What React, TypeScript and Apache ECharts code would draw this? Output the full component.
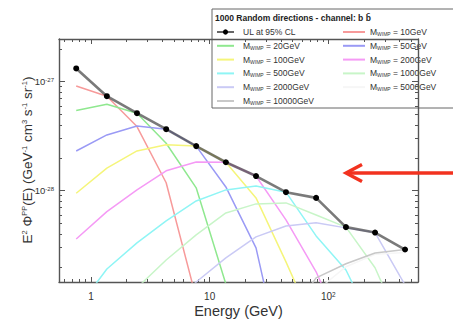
import { useEffect, useRef } from "react";
import * as echarts from "echarts";

// ---- data ----
const energies = [0.75, 1.36, 2.44, 4.3, 7.7, 13.7, 24.6, 44, 79, 141, 248, 444];
const ulValues = [1.32e-27, 7.35e-28, 5.13e-28, 3.66e-28, 2.56e-28, 1.82e-28, 1.36e-28, 9.67e-29, 8.57e-29, 4.62e-29, 4.12e-29, 2.88e-29];
const m10 = [9.13e-28, 7.35e-28, 3.87e-28, 1.18e-28, 1.03e-29, null, null, null, null, null, null, null];
const m20 = [5.42e-28, 6.2e-28, 5.13e-28, 2.72e-28, 1.06e-28, 1.39e-29, null, null, null, null, null, null];
const m50 = [2.31e-28, 3.24e-28, 3.92e-28, 3.66e-28, 2.56e-28, 1.08e-28, 2.98e-29, 1.8e-30, null, null, null, null];
const m100 = [9.46e-29, 1.61e-28, 2.31e-28, 2.63e-28, 2.56e-28, 1.82e-28, 8.57e-29, 2.22e-29, 5.3e-30, null, null, null];
const m200 = [3.6e-29, 6.42e-29, 1.015e-28, 1.52e-28, 1.83e-28, 1.82e-28, 1.36e-28, 5.39e-29, 1.8e-29, 4.3e-30, null, null];
const m500 = [8.0e-30, 1.91e-29, 3.31e-29, 5.27e-29, 8.04e-29, 1.015e-28, 1.1e-28, 9.67e-29, 3.84e-29, 1.87e-29, 5.3e-30, null];
const m1000 = [null, 5.3e-30, 1.28e-29, 2.31e-29, 3.92e-29, 6.24e-29, 7.55e-29, 7.71e-29, 5.98e-29, 4.62e-29, 1.96e-29, 4.7e-30];
const m2000 = [null, null, null, 7.2e-30, 1.45e-29, 2.41e-29, 3.76e-29, 4.74e-29, 5.06e-29, 4.55e-29, 4.12e-29, 1.36e-29];
const m5000 = [null, null, null, null, null, null, null, 6.0e-30, 1.2e-29, 2.0e-29, 2.6e-29, 2.7e-29];
const m10000 = [null, null, null, null, null, null, null, 6.5e-30, 1.58e-29, 2.13e-29, 2.68e-29, 2.88e-29];

const masses = [10, 20, 50, 100, 200, 500, 1000, 2000, 5000, 10000];
const massCurves = [m10, m20, m50, m100, m200, m500, m1000, m2000, m5000, m10000];
const massColors = ["#f79a9a", "#8fe88f", "#9a9af5", "#f5f57a", "#f59af5", "#8ff5f5", "#c8f5c8", "#cacaf5", "#f6f6f6", "#c8c8c8"];

const xMajorTicks = [1, 10, 100];
const xMinorTicks = [0.6, 0.7, 0.8, 0.9, 2, 3, 4, 5, 6, 7, 8, 9, 20, 30, 40, 50, 60, 70, 80, 90, 200, 300, 400, 500];
const yMajorTicks = [1e-28, 1e-27];
const yMinorTicks = [2e-29, 3e-29, 4e-29, 5e-29, 6e-29, 7e-29, 8e-29, 9e-29, 2e-28, 3e-28, 4e-28, 5e-28, 6e-28, 7e-28, 8e-28, 9e-28, 2e-27];

const X_MIN = 0.537;
const X_MAX = 571;
const Y_MIN = 1.45e-29;
const Y_MAX = 2.46e-27;

const Y_TITLE = "E{sup|2} Φ{sup|PP}(E) (GeV{sup|-1} cm{sup|3} s{sup|-1} sr{sup|-1})";
const X_TITLE = "Energy (GeV)";

// plotting unit (values are handed to the log axis in units of 1e-29)
const UNIT = 1e-29;
const u = (v: number | null) => (v == null ? null : v / UNIT);

const FONT = '"Liberation Sans", Arial, sans-serif';
const AXIS_COLOR = "#555";

export default function App() {
  const ref = useRef<HTMLDivElement>(null);
  useEffect(() => {
    if (!ref.current) return;
    const chart = echarts.init(ref.current, null, { renderer: "svg" });

    const xAxisDef = (position: string, ticks: number[], len: number, showLine: boolean, labels: boolean) => ({
      type: "log",
      logBase: 10,
      gridIndex: 0,
      position,
      min: X_MIN,
      max: X_MAX,
      axisLine: { show: showLine, lineStyle: { color: AXIS_COLOR, width: 1.4 } },
      axisTick: { show: true, inside: true, length: len, customValues: ticks, lineStyle: { color: AXIS_COLOR, width: 1 } },
      axisLabel: labels
        ? {
            show: true,
            customValues: xMajorTicks,
            margin: 9,
            color: "#333",
            fontSize: 10,
            fontFamily: FONT,
            formatter: (v: number) => {
              const e = Math.round(Math.log10(v));
              return e < 2 ? String(Math.round(v)) : `10{sup|${e}}`;
            },
            rich: { sup: { fontSize: 6.5, verticalAlign: "top", lineHeight: 8, fontFamily: FONT, color: "#333" } },
          }
        : { show: false },
      splitLine: { show: false },
      minorTick: { show: false },
      name: labels ? X_TITLE : "",
      nameLocation: "middle",
      nameGap: 21,
      nameMoveOverlap: false,
      nameTextStyle: { fontSize: 14.5, fontFamily: FONT, color: "#333" },
    });

    const yAxisDef = (position: string, ticks: number[], len: number, showLine: boolean, labels: boolean) => ({
      type: "log",
      logBase: 10,
      gridIndex: 0,
      position,
      min: u(Y_MIN),
      max: u(Y_MAX),
      axisLine: { show: showLine, lineStyle: { color: AXIS_COLOR, width: 1.4 } },
      axisTick: { show: true, inside: true, length: len, customValues: ticks.map((t) => u(t)), lineStyle: { color: AXIS_COLOR, width: 1 } },
      axisLabel: labels
        ? {
            show: true,
            customValues: yMajorTicks.map((t) => u(t)),
            margin: 5,
            color: "#333",
            fontSize: 9.5,
            fontFamily: FONT,
            formatter: (v: number) => `10{sup|${Math.round(Math.log10(v * UNIT))}}`,
            rich: { sup: { fontSize: 6, verticalAlign: "top", lineHeight: 8, fontFamily: FONT, color: "#333" } },
          }
        : { show: false },
      splitLine: { show: false },
      minorTick: { show: false },
    });

    const curveSeries = massCurves.map((vals, i) => ({
      type: "line",
      name: `M_WIMP = ${masses[i]}GeV`,
      xAxisIndex: 0,
      yAxisIndex: 0,
      data: energies.map((e, k) => [e, u(vals[k])]),
      showSymbol: false,
      symbol: "none",
      clip: true,
      silent: true,
      z: 2,
      lineStyle: { color: massColors[i], width: 1.5 },
      itemStyle: { color: massColors[i] },
    }));

    const ulSeries = {
      type: "line",
      name: "UL at 95% CL",
      xAxisIndex: 0,
      yAxisIndex: 0,
      data: energies.map((e, k) => [e, u(ulValues[k])]),
      symbol: "circle",
      symbolSize: 6,
      showSymbol: true,
      clip: true,
      silent: true,
      z: 4,
      lineStyle: { color: "rgba(70,70,70,0.72)", width: 2.6 },
      itemStyle: { color: "#000", borderWidth: 0 },
    };

    // legend drawn as graphic elements, built from the series names / colours
    const legendEntries = [
      { label: "UL at 95% CL", color: "#000", ul: true },
      ...masses.map((m, i) => ({ label: `M{sub|WIMP} = ${m}GeV`, color: massColors[i], ul: false })),
    ];
    const legendChildren: any[] = [
      { type: "rect", shape: { x: 212, y: 9, width: 260, height: 99 }, style: { fill: "#fff", stroke: "#666", lineWidth: 1 } },
      {
        type: "text",
        x: 215,
        y: 18,
        style: {
          text: "1000 Random directions - channel: b b\u0304",
          fontSize: 8.5,
          fontWeight: "bold",
          fontFamily: FONT,
          fill: "#222",
          verticalAlign: "middle",
        },
      },
    ];
    legendEntries.forEach((it, i) => {
      const col = i % 2;
      const row = Math.floor(i / 2);
      const lx = col ? 343 : 217;
      const tx = col ? 370 : 243;
      const y = 32 + row * 13.8;
      legendChildren.push({
        type: "line",
        shape: { x1: lx, y1: y, x2: lx + (col ? 22 : 17), y2: y },
        style: { stroke: it.color, lineWidth: it.ul ? 1.2 : 2 },
      });
      if (it.ul) {
        legendChildren.push({ type: "circle", shape: { cx: lx + 8.5, cy: y, r: 2.6 }, style: { fill: "#000" } });
      }
      legendChildren.push({
        type: "text",
        x: tx,
        y,
        style: {
          text: it.label,
          fontSize: 8.5,
          fontFamily: FONT,
          fill: "#333",
          verticalAlign: "middle",
          rich: { sub: { fontSize: 5, verticalAlign: "bottom", lineHeight: 9, fontFamily: FONT, fill: "#333" } },
        },
      });
    });

    chart.setOption({
      animation: false,
      backgroundColor: "#fff",
      grid: { left: 59, top: 39, right: 35, bottom: 39, containLabel: false, outerBoundsMode: "none" },
      xAxis: [
        xAxisDef("bottom", xMajorTicks, 5, true, true),
        xAxisDef("bottom", xMinorTicks, 3, false, false),
        xAxisDef("top", xMajorTicks, 5, true, false),
        xAxisDef("top", xMinorTicks, 3, false, false),
      ],
      yAxis: [
        yAxisDef("left", yMajorTicks, 6, true, true),
        yAxisDef("left", yMinorTicks, 3, false, false),
        yAxisDef("right", yMajorTicks, 6, true, false),
        yAxisDef("right", yMinorTicks, 3, false, false),
      ],
      series: [...curveSeries, ulSeries],
      graphic: [
        {
          type: "text",
          x: 27,
          y: 160,
          rotation: Math.PI / 2,
          style: {
            text: Y_TITLE,
            fontSize: 13.5,
            fontFamily: FONT,
            fill: "#333",
            align: "center",
            verticalAlign: "middle",
            rich: { sup: { fontSize: 7.5, verticalAlign: "top", lineHeight: 10, fontFamily: FONT, fill: "#333" } },
          },
        },
        { type: "group", children: legendChildren, z: 10 },
        {
          type: "line",
          shape: { x1: 347, y1: 173, x2: 460, y2: 173 },
          style: { stroke: "#f2321f", lineWidth: 3.4 },
          z: 11,
        },
        {
          type: "polyline",
          shape: { points: [[362, 164.5], [346, 173], [362, 181.5]] },
          style: { stroke: "#f2321f", lineWidth: 3.4, fill: "none", lineJoin: "miter" },
          z: 11,
        },
      ],
    } as any);

    return () => chart.dispose();
  }, []);

  return <div ref={ref} style={{ position: "absolute", left: 0, top: 0, width: 453, height: 321, background: "#fff" }} />;
}
